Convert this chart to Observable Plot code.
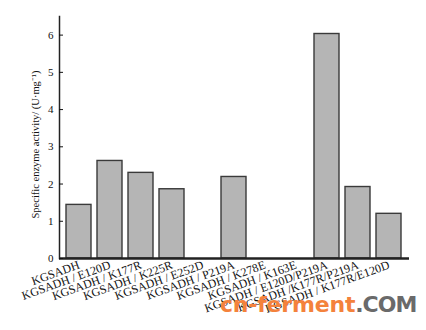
<!DOCTYPE html>
<html><head><meta charset="utf-8">
<script src="https://cdn.jsdelivr.net/npm/d3@7"></script>
<script src="https://cdn.jsdelivr.net/npm/@observablehq/plot@0.6"></script>
<style>
body{margin:0;background:#fff;}
#wrap{position:relative;width:426px;height:330px;}
#wm{position:absolute;left:220px;top:294px;line-height:1;font-family:"DejaVu Sans",sans-serif;font-weight:bold;font-size:22px;letter-spacing:-0.2px;white-space:nowrap;}
</style></head>
<body><div id="wrap"><div id="wm"><span style="color:#f4823c">cn-ferment</span><span style="color:#6a6a6a;letter-spacing:-1px">.COM</span></div></div>
<script>
const categories = ["KGSADH","KGSADH / E120D","KGSADH / K177R","KGSADH / K225R","KGSADH / E252D","KGSADH / P219A","KGSADH / K278E","KGSADH / K163E","KGSADH / E120D/P219A","KGSADH /K177R/P219A","KGSADH / K177R/E120D"];
const activity = [1.44, 2.62, 2.30, 1.86, 0, 2.19, 0, 0, 6.03, 1.92, 1.20];
const yTicks = [0,1,2,3,4,5,6];
const yLabel = "Specific enzyme activity/ (U·mg⁻¹)";
const data = categories.map((c,i)=>({c, v: activity[i]}));
const chart = Plot.plot({
  width: 426, height: 330,
  marginLeft: 59, marginRight: 17, marginTop: 16, marginBottom: 72,
  style: {fontFamily: "Liberation Serif", fontSize: "11px", color: "#111", background: "transparent"},
  x: {domain: categories, padding: 0.19},
  y: {domain: [0, 6.5]},
  marks: [
    Plot.barY(data, {x: "c", y: "v", fill: "#b5b5b5", stroke: "#3a3a3a", strokeWidth: 1.4}),
    Plot.frame({anchor: "left", stroke: "#222", strokeWidth: 1.5}),
    Plot.ruleY([0], {stroke: "#222", strokeWidth: 2.5}),
    Plot.axisY(yTicks, {tickSize: -4, tickPadding: 10, fontSize: 11, label: null}),
    Plot.text([yLabel], {frameAnchor: "left", textAnchor: "middle", rotate: -90, dx: -24, dy: 7, fontSize: 10.5, text: d => d}),
    Plot.axisX({tickSize: 0, tickRotate: -20, tickPadding: 6, fontSize: 12, label: null})
  ]
});
document.getElementById("wrap").prepend(chart);
</script></body></html>
